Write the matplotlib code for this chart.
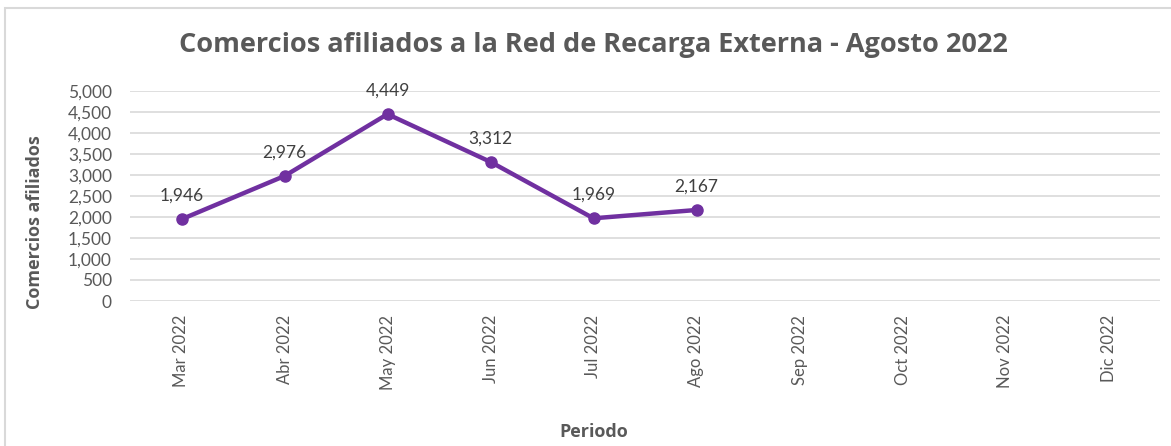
import matplotlib
matplotlib.use("Agg")
import matplotlib.pyplot as plt
from matplotlib.patches import Rectangle

categories = ["Mar 2022", "Abr 2022", "May 2022", "Jun 2022", "Jul 2022",
              "Ago 2022", "Sep 2022", "Oct 2022", "Nov 2022", "Dic 2022"]
values = [1946, 2976, 4449, 3312, 1969, 2167]
yticks = list(range(0, 5001, 500))

plt.rcParams['font.family'] = ['Lato', 'DejaVu Sans']
gray = "#595959"
purple = "#7030A0"
bold_font = ['Open Sans', 'DejaVu Sans']

W, H = 1171, 446
fig = plt.figure(figsize=(W/100, H/100), dpi=100)
fig.patches.append(Rectangle((5/W, -0.1), 1.2, (446-8)/H + 0.1, transform=fig.transFigure,
                             fill=False, edgecolor="#D9D9D9", linewidth=1.5))
left, right, top, bottom = 130, 1160, 91, 301
ax = fig.add_axes([left/W, 1-bottom/H, (right-left)/W, (bottom-top)/H])

x = list(range(len(categories)))
ax.plot(x[:len(values)], values, color=purple, linewidth=3.2, marker='o', markersize=8,
        solid_capstyle='round', zorder=3)
for xi, v in zip(x, values):
    ax.annotate(f"{v:,}", (xi, v), xytext=(0, 11), textcoords='offset points',
                ha='center', va='bottom', fontsize=12.5, color="#404040")

ax.set_xlim(-0.5, len(categories)-0.5)
ax.set_ylim(0, 5000)
ax.set_yticks(yticks)
ax.set_yticklabels([f"{t:,}" for t in yticks], color=gray, fontsize=12.5)
ax.set_xticks(x)
ax.set_xticklabels(categories, rotation=90, color=gray, fontsize=12)
ax.tick_params(axis='both', length=0)
ax.tick_params(axis='x', pad=10)
ax.tick_params(axis='y', pad=13)
ax.grid(axis='y', color="#D9D9D9", linewidth=1.2)
ax.set_axisbelow(True)
for s in ax.spines.values():
    s.set_visible(False)

fig.text(593/W, 1-45/H, "Comercios afiliados a la Red de Recarga Externa - Agosto 2022",
         ha='center', va='center', fontsize=19.5, fontweight='bold', color=gray,
         family=bold_font)
fig.text(35/W, 1-222/H, "Comercios afiliados", rotation=90, ha='center', va='center',
         fontsize=13, fontweight='bold', color=gray, family=bold_font)
fig.text(594/W, 1-432/H, "Periodo", ha='center', va='center',
         fontsize=13, fontweight='bold', color=gray, family=bold_font)

fig.savefig("out.png", dpi=100)
